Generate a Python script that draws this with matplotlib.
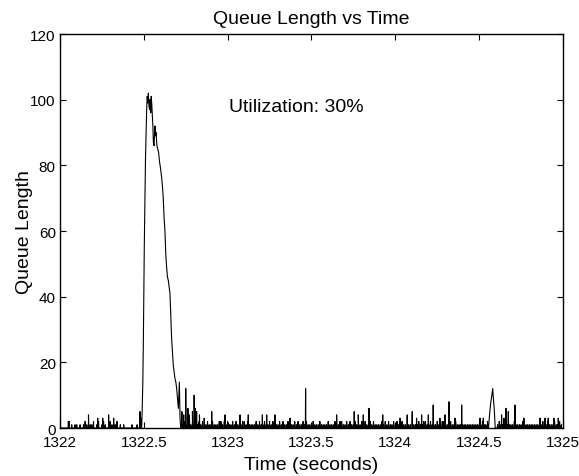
"""
Queue length vs time for a 3 second window, utilization 30%.
"""

import matplotlib as mpl
mpl.use('Agg')

import numpy as np
import matplotlib.pyplot as plt

mpl.rcParams['font.family'] = ['Liberation Sans', 'DejaVu Sans']

# Main burst (time in s, queue length)
burst_t = [1322.487, 1322.490, 1322.494, 1322.497, 1322.500, 1322.503, 1322.507,
           1322.510, 1322.514, 1322.517, 1322.520, 1322.524, 1322.527, 1322.531,
           1322.534, 1322.537, 1322.541, 1322.544, 1322.547, 1322.551, 1322.554,
           1322.557, 1322.561, 1322.564, 1322.567, 1322.570, 1322.573, 1322.578,
           1322.583, 1322.588, 1322.594, 1322.600, 1322.607, 1322.612, 1322.616,
           1322.621, 1322.626, 1322.631, 1322.636, 1322.641, 1322.646, 1322.651,
           1322.656, 1322.661, 1322.666, 1322.671, 1322.676, 1322.681, 1322.686,
           1322.691, 1322.696, 1322.701, 1322.706, 1322.709, 1322.712, 1322.716,
           1322.720]
burst_q = [0, 5, 14, 25, 42, 56, 70,
           82, 91, 97, 101, 99, 102, 98,
           97, 100, 96, 101, 99, 95, 92,
           87, 86, 90, 92, 89, 90, 86,
           85, 84, 81, 79, 76, 73, 70,
           64, 60, 53, 49, 46, 45, 43,
           41, 34, 27, 23, 19, 17, 15,
           14, 12, 9, 6, 10, 14, 3,
           0]

# Isolated spikes on the baseline
spike_t = [1322.055, 1322.170, 1322.225, 1322.255, 1322.290, 1322.320, 1322.477, 1322.482,
           1322.727, 1322.738, 1322.750, 1322.763, 1322.772, 1322.790, 1322.800, 1322.807,
           1322.815, 1322.832, 1322.860, 1322.905, 1322.984, 1323.074, 1323.123, 1323.207,
           1323.233, 1323.282, 1323.372, 1323.465, 1323.650, 1323.755, 1323.779, 1323.809,
           1323.843, 1323.925, 1324.028, 1324.071, 1324.101, 1324.127, 1324.157, 1324.197,
           1324.226, 1324.266, 1324.296, 1324.320, 1324.356, 1324.396, 1324.505, 1324.525,
           1324.634, 1324.648, 1324.660,
           1324.674, 1324.714, 1324.767, 1324.863, 1324.893, 1324.912, 1324.946, 1324.972]
spike_q = [2, 4, 3, 3, 4, 3, 5, 3,
           5, 4, 12, 6, 4, 5, 10, 6,
           5, 4, 3, 5, 4, 4, 4, 4,
           4, 4, 3, 12, 4, 5, 4, 4,
           6, 4, 3, 4, 5, 3, 4, 4,
           7, 3, 4, 8, 3, 7, 3, 3,
           4, 3, 6,
           5, 7, 3, 3, 3, 3, 3, 3]

# Small bump near 1324.58 s
bump_t = [1324.556, 1324.562, 1324.570, 1324.576, 1324.581, 1324.585, 1324.590, 1324.596]
bump_q = [0, 4, 8, 10, 12, 9, 6, 0]

# Baseline noise, one sample every 10 ms from 1322.00 s
noise_q = [0, 0, 0, 0, 0, 2, 0, 1, 0, 1, 1, 0, 1, 0, 1, 2, 1, 0, 1, 1, 2, 0, 1, 2, 0, 1, 2, 1, 0, 1,
           2, 1, 0, 1, 2, 0, 1, 0, 1, 0, 0, 0, 0, 1, 0, 0, 1, 0, 0, 0, 0, 0, 0, 0, 0, 0, 0, 0, 0, 0,
           0, 0, 0, 0, 0, 0, 0, 0, 0, 0, 0, 0, 0, 1, 2, 0, 1, 2, 1, 2, 1, 2, 1, 2, 1, 2, 1, 1, 2, 1,
           1, 2, 1, 1, 1, 2, 2, 1, 2, 1, 2, 1, 1, 2, 1, 2, 1, 1, 1, 2, 2, 1, 2, 1, 1, 1, 1, 2, 1, 2,
           1, 1, 2, 1, 1, 2, 1, 2, 1, 1, 1, 2, 1, 2, 1, 1, 2, 1, 1, 1, 2, 1, 2, 1, 1, 2, 1, 2, 1, 1,
           1, 2, 1, 1, 1, 2, 1, 1, 1, 1, 2, 1, 1, 1, 2, 1, 1, 2, 2, 1, 1, 2, 1, 2, 1, 1, 2, 1, 2, 1,
           2, 1, 2, 1, 1, 2, 1, 2, 1, 1, 1, 1, 2, 1, 2, 1, 2, 1, 1, 2, 1, 2, 1, 1, 2, 1, 1, 2, 1, 1,
           2, 1, 1, 1, 2, 1, 1, 2, 2, 1, 1, 2, 1, 1, 1, 2, 1, 1, 2, 2, 1, 1, 1, 2, 1, 1, 2, 1, 1, 1,
           1, 1, 1, 1, 1, 1, 1, 1, 1, 1, 1, 1, 2, 1, 1, 2, 1, 2, 0, 0, 0, 1, 2, 1, 1, 1, 2, 1, 1, 1,
           1, 2, 1, 1, 1, 1, 2, 1, 1, 1, 1, 1, 1, 1, 1, 1, 1, 1, 2, 1, 1, 2, 1, 1, 1, 2, 1, 1, 2, 1]
noise_t0 = 1322.0
noise_dt = 0.01

# Samples and spikes are very short: draw each as a narrow pulse from zero
w = 0.0015
noise_t = noise_t0 + noise_dt * np.arange(len(noise_q))
in_burst = (noise_t >= burst_t[0]) & (noise_t <= burst_t[-1])
in_bump = (noise_t >= bump_t[0]) & (noise_t <= bump_t[-1])
keep = ~(in_burst | in_bump)
pulse_c = np.concatenate([noise_t[keep], spike_t])
pulse_h = np.concatenate([np.array(noise_q)[keep], spike_q])

pt = np.concatenate([pulse_c - w, pulse_c, pulse_c + w, burst_t, bump_t])
pq = np.concatenate([np.zeros(len(pulse_c)), pulse_h, np.zeros(len(pulse_c)), burst_q, bump_q])
order = np.argsort(pt, kind='stable')
t, q = pt[order], pq[order]

fig = plt.figure(figsize=(5.79, 4.77), dpi=100)
ax = fig.add_axes([0.1036, 0.1006, 0.8687, 0.826])
ax.plot(t, q, color='k', linewidth=0.8)

ax.set_xlim(1322, 1325)
ax.set_ylim(0, 120)
ax.set_xticks([1322, 1322.5, 1323, 1323.5, 1324, 1324.5, 1325])
ax.set_xticklabels(['1322', '1322.5', '1323', '1323.5', '1324', '1324.5', '1325'])
ax.set_yticks(np.arange(0, 121, 20))
ax.tick_params(direction='in', length=4, width=0.8, top=True, right=True, labelsize=11)
ax.tick_params(axis='x', pad=5)
ax.tick_params(axis='y', pad=3)
for sp in ax.spines.values():
    sp.set_linewidth(1.0)

ax.set_xlabel('Time (seconds)', fontsize=14, labelpad=5)
ax.set_ylabel('Queue Length', fontsize=14, labelpad=-2)
ax.set_title('Queue Length vs Time', fontsize=14, pad=8)
ax.text(1323.01, 98, 'Utilization: 30%', fontsize=14, va='center', ha='left')

fig.savefig('out.png', dpi=100)
plt.close()
